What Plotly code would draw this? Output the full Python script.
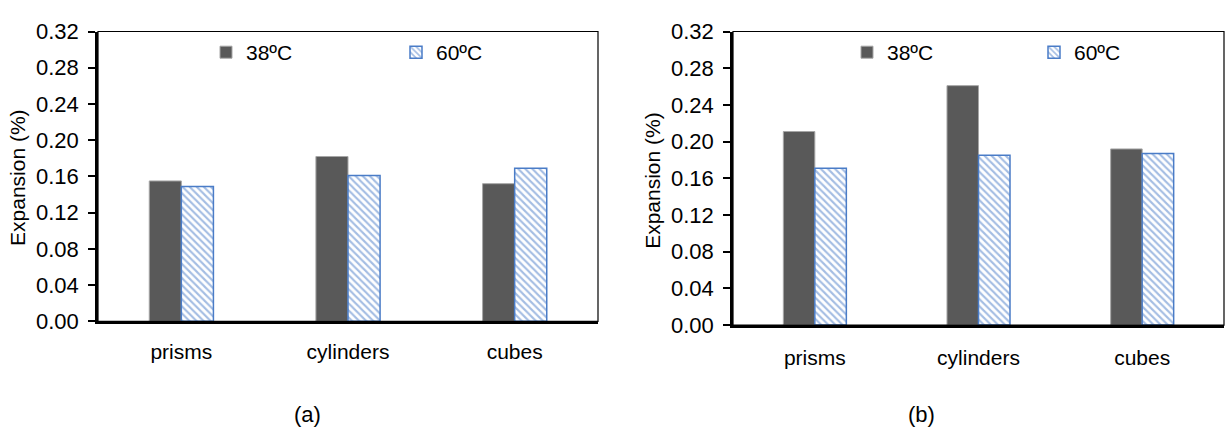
import plotly.graph_objects as go

categories = ["prisms", "cylinders", "cubes"]
a_38 = [0.155, 0.182, 0.152]
a_60 = [0.149, 0.161, 0.169]
b_38 = [0.211, 0.261, 0.192]
b_60 = [0.171, 0.185, 0.187]
series_names = ["38ºC", "60ºC"]
y_ticks = [0.00, 0.04, 0.08, 0.12, 0.16, 0.20, 0.24, 0.28, 0.32]
panel_labels = ["(a)", "(b)"]

W, H = 1225, 439
FONT = "Liberation Sans, Arial, sans-serif"
DARK = "#595959"
BLUE = "#4A7CC7"

def px(x):
    return x / W

def py(y):
    return 1 - y / H

fig = go.Figure()

def add_bars(xa, ya, v38, v60, legend):
    fig.add_trace(go.Bar(
        x=categories, y=v38, name=series_names[0], xaxis=xa, yaxis=ya,
        marker=dict(color=DARK, line=dict(color="#A6A6A6", width=1)),
        legend=legend, showlegend=True,
    ))
    fig.add_trace(go.Bar(
        x=categories, y=v60, name=series_names[1], xaxis=xa, yaxis=ya,
        marker=dict(color="white", line=dict(color=BLUE, width=1.5),
                    pattern=dict(shape="\\", fgcolor=BLUE, bgcolor="white",
                                 size=5, solidity=0.42)),
        legend=legend, showlegend=True,
    ))

add_bars("x", "y", a_38, a_60, "legend")
add_bars("x2", "y2", b_38, b_60, "legend2")

xcommon = dict(showline=True, linecolor="black", linewidth=2.5, ticks="",
               tickfont=dict(family=FONT, size=21, color="black"),
               showgrid=False, zeroline=False)
ycommon = dict(range=[0, 0.32], tickvals=y_ticks, tickformat=".2f",
               showline=True, linecolor="black", linewidth=2.5,
               ticks="outside", ticklen=7, tickwidth=1.5, tickcolor="black",
               ticklabelstandoff=5,
               tickfont=dict(family=FONT, size=22, color="black"),
               showgrid=False, zeroline=False)

fig.update_layout(
    width=W, height=H,
    margin=dict(l=0, r=0, t=0, b=0),
    paper_bgcolor="white", plot_bgcolor="white",
    barmode="group", bargap=0.615, bargroupgap=0,
    xaxis=dict(domain=[px(98), px(598)], anchor="y", ticklabelstandoff=10, **xcommon),
    yaxis=dict(domain=[py(328), py(20.7)], anchor="x", **ycommon),
    xaxis2=dict(domain=[px(733), px(1224)], anchor="y2", ticklabelstandoff=12, **xcommon),
    yaxis2=dict(domain=[py(332), py(20.7)], anchor="x2", **ycommon),
    legend=dict(orientation="h", x=px(206), y=py(43), xanchor="left", yanchor="middle",
                entrywidth=145, entrywidthmode="pixels", itemwidth=30,
                font=dict(family=FONT, size=21, color="black"),
                bgcolor="rgba(0,0,0,0)"),
    legend2=dict(orientation="h", x=px(847), y=py(43), xanchor="left", yanchor="middle",
                 entrywidth=142, entrywidthmode="pixels", itemwidth=30,
                 font=dict(family=FONT, size=21, color="black"),
                 bgcolor="rgba(0,0,0,0)"),
    shapes=[
        dict(type="rect", xref="x domain", yref="y domain", x0=0, x1=1, y0=0, y1=1,
             line=dict(color="black", width=1.2), layer="above"),
        dict(type="rect", xref="x2 domain", yref="y2 domain", x0=0, x1=1, y0=0, y1=1,
             line=dict(color="black", width=1.2), layer="above"),
    ],
    annotations=[
        dict(text="Expansion (%)", x=px(18), y=py(176), xref="paper", yref="paper",
             textangle=-90, showarrow=False, xanchor="center", yanchor="middle",
             font=dict(family=FONT, size=21, color="black")),
        dict(text="Expansion (%)", x=px(653), y=py(178), xref="paper", yref="paper",
             textangle=-90, showarrow=False, xanchor="center", yanchor="middle",
             font=dict(family=FONT, size=21, color="black")),
        dict(text=panel_labels[0], x=px(307), y=py(427), xref="paper", yref="paper",
             showarrow=False, xanchor="center", yanchor="middle",
             font=dict(family=FONT, size=22, color="black")),
        dict(text=panel_labels[1], x=px(921), y=py(427), xref="paper", yref="paper",
             showarrow=False, xanchor="center", yanchor="middle",
             font=dict(family=FONT, size=22, color="black")),
    ],
)

fig.write_html("out.html")
